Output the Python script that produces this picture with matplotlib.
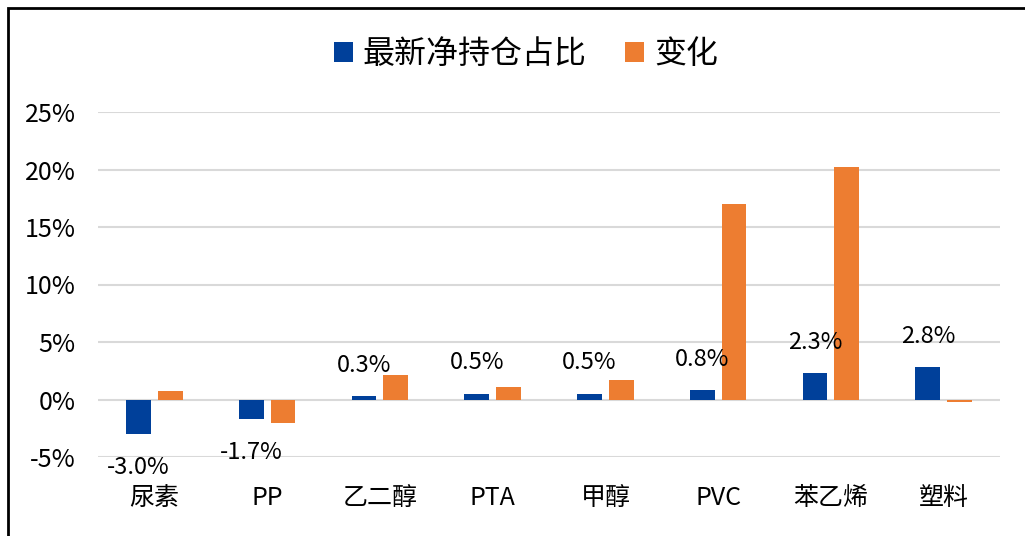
import matplotlib
matplotlib.use("Agg")
import matplotlib.pyplot as plt
import matplotlib.patches as mpatches
import numpy as np

plt.rcParams['font.family'] = ['Noto Sans CJK SC', 'DejaVu Sans']

categories = ['尿素', 'PP', '乙二醇', 'PTA', '甲醇', 'PVC', '苯乙烯', '塑料']
net_ratio = [-3.0, -1.7, 0.3, 0.5, 0.5, 0.8, 2.3, 2.8]
change = [0.7, -2.0, 2.1, 1.1, 1.7, 17.0, 20.2, -0.2]
yticks = [-5, 0, 5, 10, 15, 20, 25]

blue = '#00409A'
orange = '#ED7D31'

fig = plt.figure(figsize=(10.25, 5.36), dpi=100)
ax = fig.add_axes([98 / 1025, 1 - 457 / 536, 902 / 1025, (457 - 112) / 536])

x = np.arange(len(categories))
w = 0.22
gap = 0.03
ax.bar(x - w / 2 - gap, net_ratio, w, color=blue, label='最新净持仓占比', zorder=3)
ax.bar(x + w / 2 + gap, change, w, color=orange, label='变化', zorder=3)

# labels only on the blue series, offset like the Excel original
for xi, v in zip(x, net_ratio):
    off = 31 if v >= 0 else -33
    ax.annotate(f'{v:.1f}%', (xi - w / 2 - gap, v), xytext=(0, off),
                textcoords='offset pixels', ha='center', va='center', fontsize=17)

ax.set_xlim(-0.5, len(categories) - 0.5)
ax.set_ylim(-5, 25)
ax.set_yticks(yticks)
ax.set_yticklabels([f'{t}%' for t in yticks], fontsize=18)
ax.set_xticks(x)
ax.set_xticklabels(categories, fontsize=18)
ax.tick_params(length=0)
ax.tick_params(axis='y', pad=16)
ax.tick_params(axis='x', pad=20)
ax.grid(axis='y', color='#d9d9d9', linewidth=1.5, zorder=0)
ax.set_axisbelow(True)
for s in ax.spines.values():
    s.set_visible(False)

fig.legend(loc='center', bbox_to_anchor=(526 / 1025, 1 - 54 / 536), ncol=2,
           frameon=False, fontsize=23, handlelength=0.6, handleheight=0.6,
           handletextpad=0.3, columnspacing=1.2)

fig.patches.append(mpatches.Rectangle((8 / 1025, -0.1), 1.2, 1 - 8 / 536 + 0.1,
                                      transform=fig.transFigure, fill=False,
                                      edgecolor='black', linewidth=2))

fig.savefig('out.png', dpi=100)
